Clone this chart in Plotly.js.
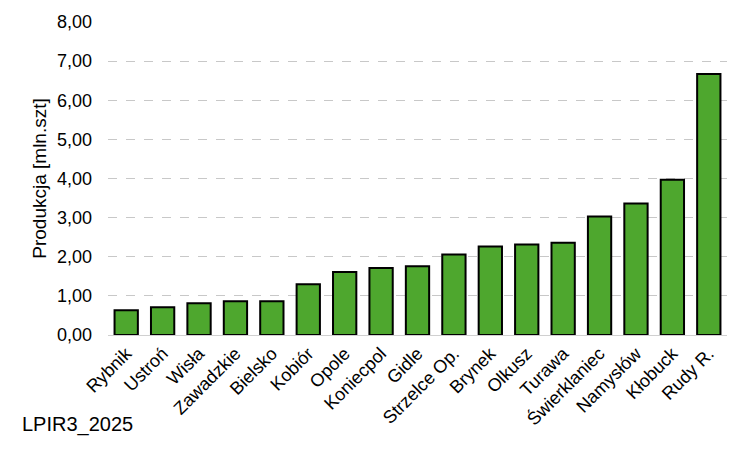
<!DOCTYPE html>
<html>
<head>
<meta charset="utf-8">
<script src="https://cdn.plot.ly/plotly-3.0.1.min.js"></script>
<style>html,body{margin:0;padding:0;background:#fff;}#chart{width:750px;height:450px;}</style>
</head>
<body>
<div id="chart"></div>
<script>
const categories = ["Rybnik","Ustroń","Wisła","Zawadzkie","Bielsko","Kobiór","Opole","Koniecpol","Gidle","Strzelce Op.","Brynek","Olkusz","Turawa","Świerklaniec","Namysłów","Kłobuck","Rudy R."];
const production = [0.63,0.71,0.81,0.86,0.86,1.30,1.61,1.71,1.76,2.06,2.26,2.31,2.36,3.03,3.36,3.97,6.67];
const yTickValues = [0,1,2,3,4,5,6,7,8];
const yTitle = "Produkcja [mln.szt]";
const footnote = "LPIR3_2025";

const font = "Liberation Sans, Arial, sans-serif";
Plotly.newPlot("chart", [{
  type: "bar",
  x: categories,
  y: production,
  marker: {color: "#4ea72e", line: {color: "#000", width: 2}},
  hoverinfo: "x+y"
}], {
  width: 750, height: 450,
  margin: {l: 108, r: 23, t: 22, b: 115},
  paper_bgcolor: "#fff", plot_bgcolor: "#fff",
  bargap: 0.36,
  separators: ",.",
  font: {family: font, size: 19, color: "#000"},
  showlegend: false,
  xaxis: {
    tickangle: -45,
    tickfont: {family: font, size: 18, color: "#000"},
    showgrid: false, zeroline: false,
    showline: true, linecolor: "#d0d0d0", linewidth: 1,
    ticks: ""
  },
  yaxis: {
    range: [0, 8],
    tickvals: yTickValues,
    tickformat: ".2f",
    tickfont: {family: font, size: 18, color: "#000"},
    showgrid: true, gridcolor: "#c8c8c8", griddash: "dash", gridwidth: 1,
    zeroline: false, showline: false, ticks: "",
    ticklabelstandoff: 15,
    title: {text: yTitle, font: {family: font, size: 19, color: "#000"}, standoff: 5}
  },
  annotations: [{
    text: footnote, xref: "paper", yref: "paper", x: -0.142, y: -0.242,
    xanchor: "left", yanchor: "top", showarrow: false,
    font: {family: font, size: 20, color: "#000"}
  }]
}, {displayModeBar: false, staticPlot: true});
</script>
</body>
</html>
